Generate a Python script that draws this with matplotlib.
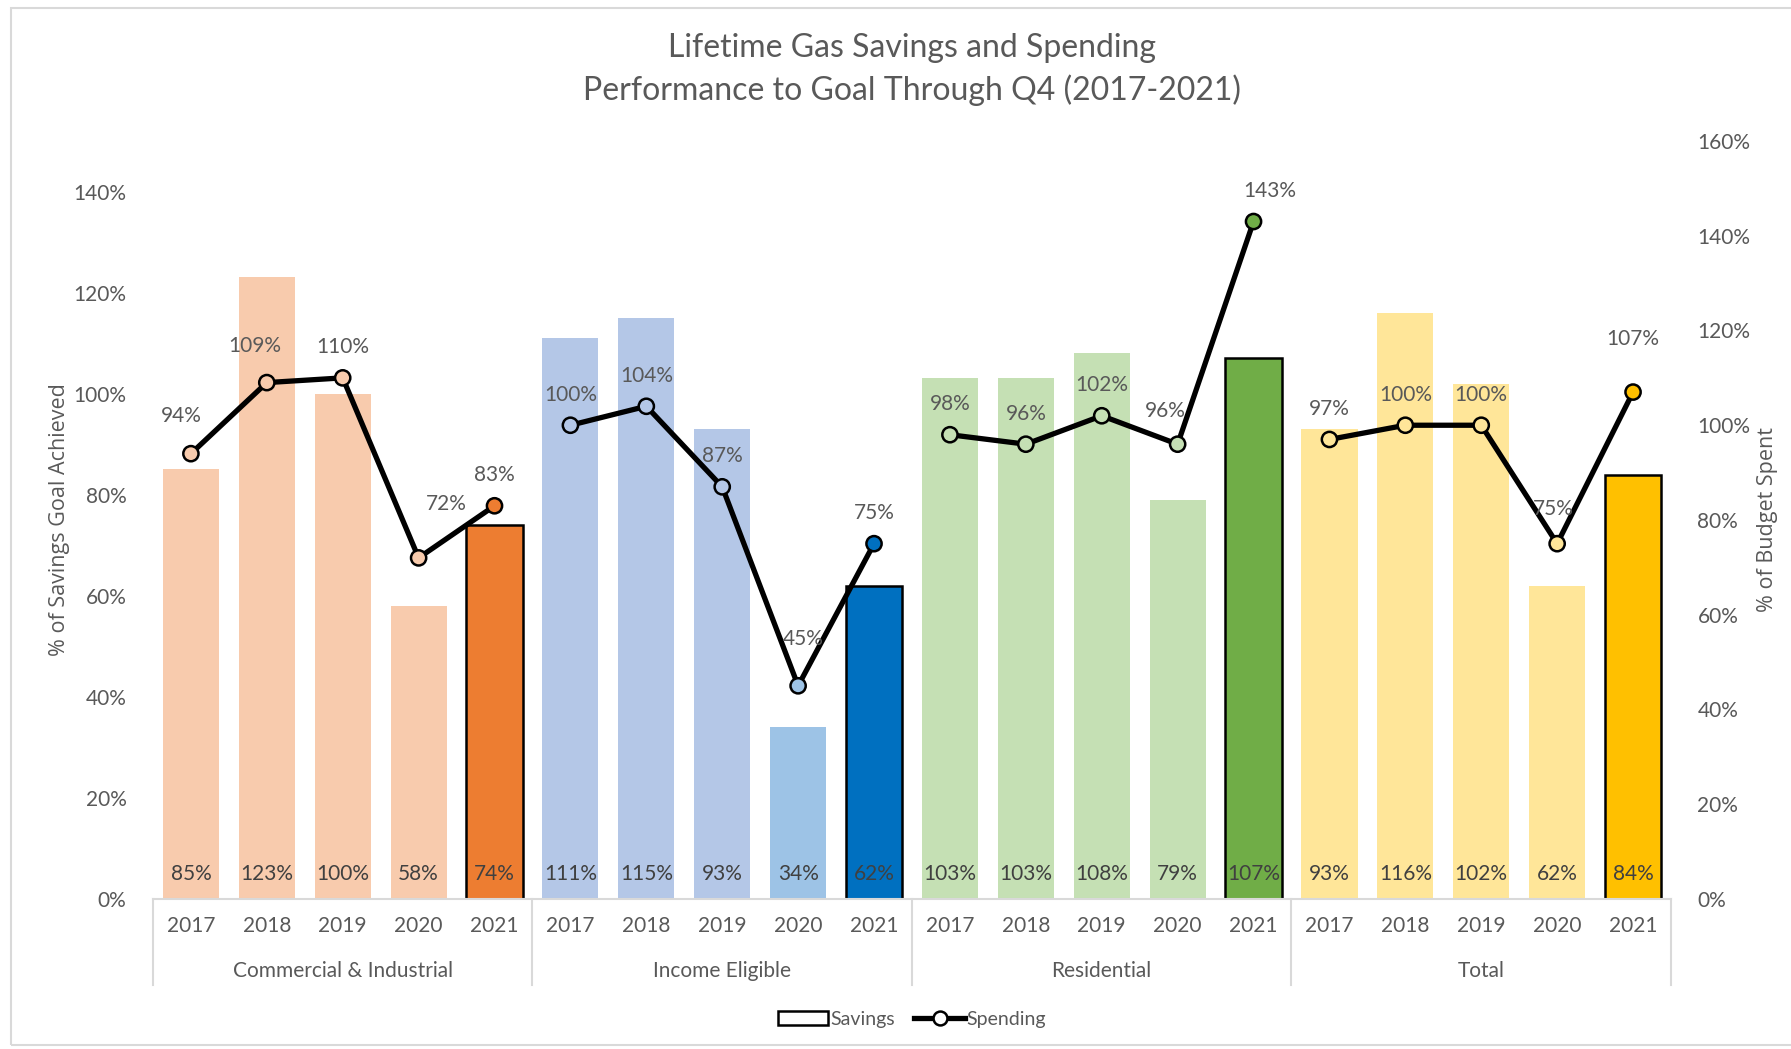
import matplotlib
matplotlib.use("Agg")
import matplotlib.pyplot as plt
import matplotlib.transforms as mtransforms
from matplotlib.patches import Patch, Rectangle
from matplotlib.lines import Line2D

# Data
groups = ["Commercial & Industrial", "Income Eligible", "Residential", "Total"]
years = ["2017", "2018", "2019", "2020", "2021"]

savings_ci = [85, 123, 100, 58, 74]
savings_ie = [111, 115, 93, 34, 62]
savings_res = [103, 103, 108, 79, 107]
savings_total = [93, 116, 102, 62, 84]

spending_ci = [94, 109, 110, 72, 83]
spending_ie = [100, 104, 87, 45, 75]
spending_res = [98, 96, 102, 96, 143]
spending_total = [97, 100, 100, 75, 107]

savings = [savings_ci, savings_ie, savings_res, savings_total]
spending = [spending_ci, spending_ie, spending_res, spending_total]

# colours per group: light for 2017-2020, dark for 2021
light = ["#F8CBAD", "#B4C7E7", "#C5E0B4", "#FFE699"]
dark = ["#ED7D31", "#0070C0", "#70AD47", "#FFC000"]
ie_2020 = "#9DC3E6"

# label nudges (points) for a few spending labels, keyed by (group, year index)
nudge = {(0, 0): (-7, 27), (0, 1): (-9, 26), (0, 3): (20, 39),
         (1, 3): (4, 34), (2, 3): (-9, 24), (2, 4): (12, 22),
         (3, 3): (-3, 25), (3, 4): (0, 38)}

text_col = "#595959"
grid_col = "#D9D9D9"
font = "Lato"
plt.rcParams["font.family"] = [font, "DejaVu Sans"]

fig = plt.figure(figsize=(17.91, 10.49), dpi=100)
ax = fig.add_axes([0.0854, 0.1430, 0.8476, 0.7226])
ax2 = ax.twinx()

# chart border (right side runs off the image like in the screenshot)
fig.patches.append(Rectangle((11 / 1791, 4 / 1049), 1.2, 1 - 12 / 1049,
                             transform=fig.transFigure, fill=False,
                             edgecolor=grid_col, linewidth=1.5))

n = len(years)
base_tr = mtransforms.blended_transform_factory(ax.transData, ax.transAxes)
for g in range(len(groups)):
    xs = [g * n + i for i in range(n)]
    cols = [light[g]] * (n - 1) + [dark[g]]
    if g == 1:
        cols[3] = ie_2020
    edges = ["none"] * (n - 1) + ["black"]
    ax.bar(xs, savings[g], width=0.74, color=cols, edgecolor=edges,
           linewidth=1.8, zorder=2)
    for x, v in zip(xs, savings[g]):
        ax.text(x, 0.033, f"{v}%", transform=base_tr, ha="center",
                va="center", fontsize=15, color="#404040")

    ax2.plot(xs, spending[g], color="black", linewidth=3.8, zorder=3,
             solid_capstyle="round")
    ax2.scatter(xs, spending[g], s=120, c=cols, edgecolors="black",
                linewidths=1.8, zorder=4)
    for i, (x, v) in enumerate(zip(xs, spending[g])):
        dx, dy = nudge.get((g, i), (0, 22))
        ax2.annotate(f"{v}%", (x, v), xytext=(dx, dy),
                     textcoords="offset points", ha="center", va="center",
                     fontsize=15, color=text_col)

    # category axis labels
    for x, yr in zip(xs, years):
        ax.text(x, -0.036, yr, transform=base_tr, ha="center", va="center",
                fontsize=15, color=text_col)
    ax.text(g * n + (n - 1) / 2, -0.095, groups[g], transform=base_tr,
            ha="center", va="center", fontsize=15, color=text_col)

# group separators below the axis
for b in range(len(groups) + 1):
    ax.plot([b * n - 0.5] * 2, [0, -0.113], transform=base_tr,
            color=grid_col, linewidth=1.5, clip_on=False)

ax.set_xlim(-0.5, len(groups) * n - 0.5)
ax.set_ylim(0, 150)
ax2.set_ylim(0, 160)
ax.set_xticks([])
ax.set_yticks(range(0, 141, 20))
ax.set_yticklabels([f"{t}%" for t in range(0, 141, 20)])
ax2.set_yticks(range(0, 161, 20))
ax2.set_yticklabels([f"{t}%" for t in range(0, 161, 20)])
for a in (ax, ax2):
    a.tick_params(axis="y", length=0, labelsize=15, labelcolor=text_col, pad=19)
    for s in ("top", "left", "right"):
        a.spines[s].set_visible(False)
    a.spines["bottom"].set_color(grid_col)
    a.spines["bottom"].set_linewidth(1.5)
ax2.spines["bottom"].set_visible(False)

fig.text(59 / 1791, 1 - 520 / 1049, "% of Savings Goal Achieved", rotation=90,
         ha="center", va="center", fontsize=15.5, color=text_col,
         family="Open Sans")
fig.text(1767 / 1791, 1 - 520 / 1049, "% of Budget Spent", rotation=90,
         ha="center", va="center", fontsize=15.5, color=text_col,
         family="Open Sans")

fig.text(912 / 1791, 1 - 48 / 1049, "Lifetime Gas Savings and Spending",
         ha="center", va="center", fontsize=23, color=text_col)
fig.text(912 / 1791, 1 - 90 / 1049,
         "Performance to Goal Through Q4 (2017-2021)",
         ha="center", va="center", fontsize=23, color=text_col)

handles = [Patch(facecolor="white", edgecolor="black", linewidth=1.8),
           Line2D([], [], color="black", linewidth=3.8, marker="o",
                  markersize=10, markerfacecolor="white",
                  markeredgecolor="black", markeredgewidth=1.8)]
fig.legend(handles, ["Savings", "Spending"], loc="center",
           bbox_to_anchor=(912 / 1791, 1 - 1019 / 1049), ncol=2,
           frameon=False, fontsize=14, labelcolor=text_col,
           handlelength=2.6, handletextpad=0.1, columnspacing=1.0)

fig.savefig("out.png", dpi=100)
